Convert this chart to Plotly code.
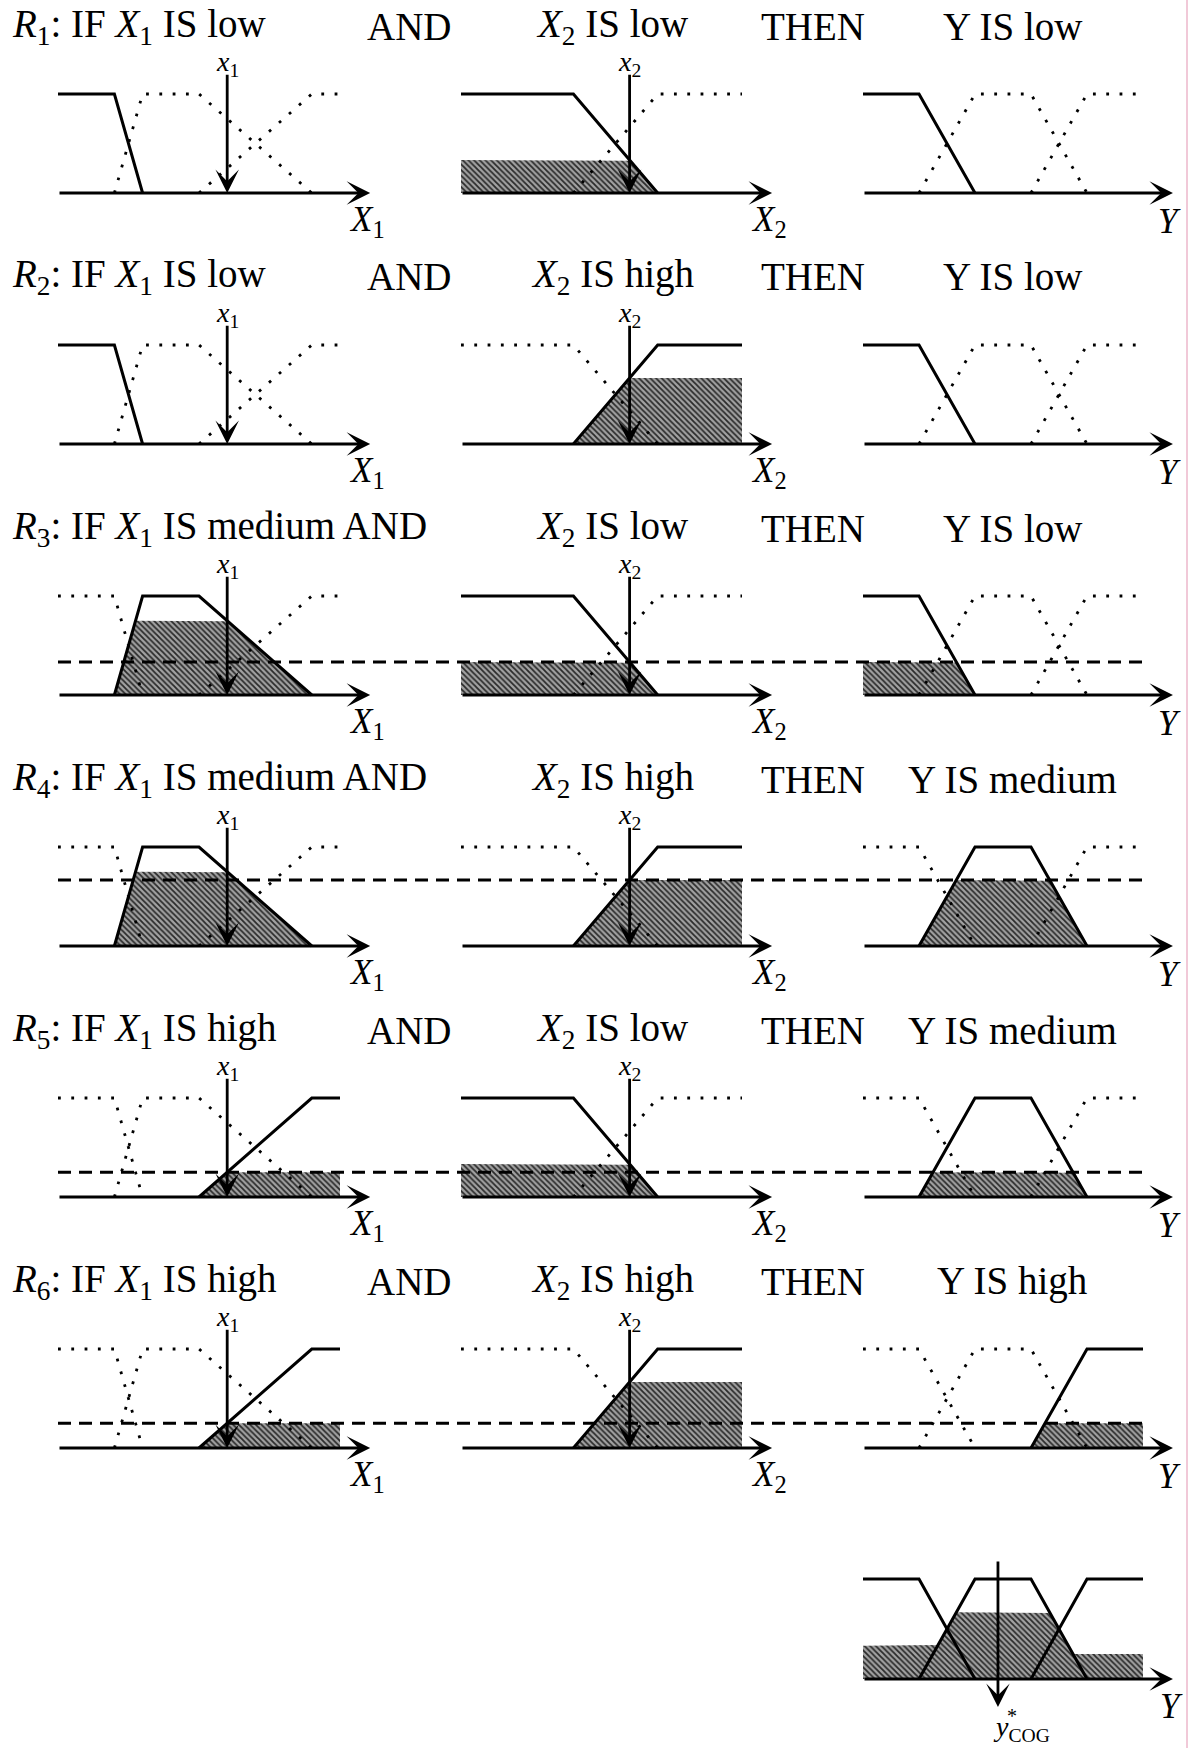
import numpy as np
import plotly.graph_objects as go

# ---------------- data ----------------
x1_low = [0, 0, 20, 30]
x1_medium = [20, 30, 50, 90]
x1_high = [50, 90, 100, 100]
x2_low = [0, 0, 40, 70]
x2_high = [40, 70, 100, 100]
y_low = [0, 0, 20, 40]
y_medium = [20, 40, 60, 80]
y_high = [60, 80, 100, 100]
x1_value = 60
x2_value = 60
rule_x1 = ["low", "low", "medium", "medium", "high", "high"]
rule_x2 = ["low", "high", "low", "high", "low", "high"]
rule_y = ["low", "low", "low", "medium", "medium", "high"]
axis_tip = 110.7

X1_SETS = {"low": x1_low, "medium": x1_medium, "high": x1_high}
X2_SETS = {"low": x2_low, "high": x2_high}
Y_SETS = {"low": y_low, "medium": y_medium, "high": y_high}

# ---------------- layout constants ----------------
W, H = 1192, 1748
FONT = "Liberation Serif"
TITLE_SIZE = 39
col_origin = [58, 461, 863]
col_scale = [2.82, 2.81, 2.80]
row_axis = [193 + 251 * r for r in range(6)]
final_axis = 1679
MU_PX = 99


def trap(x, p):
    a, b, c, d = p
    x = np.asarray(x, float)
    y = np.ones_like(x)
    if b > a:
        y = np.where(x < b, (x - a) / (b - a), y)
    if d > c:
        y = np.where(x > c, (d - x) / (d - c), y)
    y = np.where((x < a) | (x > d), 0.0, y)
    return np.clip(y, 0, 1)


def mf_line(p):
    a, b, c, d = p
    xs, ys = [], []
    if b > a:
        xs.append(a); ys.append(0)
    xs += [b, c]; ys += [1, 1]
    if d > c:
        xs.append(d); ys.append(0)
    return xs, ys


fig = go.Figure()
axes = {}
anns = []
shapes = []
counter = [0]


def add_panel(ox, sx, oy, sy):
    counter[0] += 1
    k = counter[0]
    s = "" if k == 1 else str(k)
    left, right = ox - 15, ox + 322
    top, bottom = oy - 140, oy + 50
    axes["xaxis" + s] = dict(domain=[left / W, right / W],
                             range=[(left - ox) / sx, (right - ox) / sx],
                             visible=False, fixedrange=True, anchor="y" + s)
    axes["yaxis" + s] = dict(domain=[1 - bottom / H, 1 - top / H],
                             range=[(oy - bottom) / sy, (oy - top) / sy],
                             visible=False, fixedrange=True, anchor="x" + s)
    return "x" + s, "y" + s


def add_fill(xa, ya, xs, ys):
    fig.add_trace(go.Scatter(
        x=xs, y=ys, xaxis=xa, yaxis=ya, mode="lines", fill="toself",
        line=dict(width=0, color="rgba(0,0,0,0)"),
        fillcolor="#8a8a8a",
        fillpattern=dict(shape="\\", fgcolor="#2a2a2a", bgcolor="#a2a2a2",
                         size=4, solidity=0.45, fillmode="replace"),
        hoverinfo="skip", showlegend=False))


def clipped(p, level):
    a, b, c, d = p
    xs = np.linspace(a, d, 801)
    ys = np.minimum(trap(xs, p), level)
    return (np.concatenate([[a], xs, [d]]), np.concatenate([[0], ys, [0]]))


def add_mfs(xa, ya, sets, active):
    for name, p in sets.items():
        if active is not None and name != active:
            xs, ys = mf_line(p)
            fig.add_trace(go.Scatter(
                x=xs, y=ys, xaxis=xa, yaxis=ya, mode="lines",
                line=dict(color="black", width=2.8, dash="2.8px,10.5px"),
                hoverinfo="skip", showlegend=False))
    for name, p in sets.items():
        if active is None or name == active:
            xs, ys = mf_line(p)
            fig.add_trace(go.Scatter(
                x=xs, y=ys, xaxis=xa, yaxis=ya, mode="lines",
                line=dict(color="black", width=3),
                hoverinfo="skip", showlegend=False))


def arrow(xa, ya, x0, y0, x1, y1, width=2.8):
    anns.append(dict(x=x1, y=y1, ax=x0, ay=y0, xref=xa, yref=ya,
                     axref=xa, ayref=ya, showarrow=True, arrowhead=3,
                     arrowsize=1.4, arrowwidth=width, arrowcolor="black",
                     text="", standoff=0, startstandoff=0))


def label(xa, ya, x, y, text, size, xanchor="center"):
    anns.append(dict(x=x, y=y, xref=xa, yref=ya, text=text, showarrow=False,
                     xanchor=xanchor, yanchor="middle", borderpad=0,
                     font=dict(family=FONT, size=size, color="black")))


def plabel(px, py, text, size, xanchor="center"):
    anns.append(dict(x=px / W, y=1 - py / H, xref="paper", yref="paper",
                     text=text, showarrow=False, xanchor=xanchor,
                     yanchor="middle", borderpad=0,
                     font=dict(family=FONT, size=size, color="black")))


axis_names = ["<i>X</i><sub>1</sub>", "<i>X</i><sub>2</sub>", "<i>Y</i>"]
firings = []
for r in range(6):
    oy = row_axis[r]
    mu1 = float(trap(x1_value, X1_SETS[rule_x1[r]]))
    mu2 = float(trap(x2_value, X2_SETS[rule_x2[r]]))
    fire = min(mu1, mu2)
    firings.append(fire)
    panels = []
    for c, (sets, act, val, mu) in enumerate([
            (X1_SETS, rule_x1[r], x1_value, mu1),
            (X2_SETS, rule_x2[r], x2_value, mu2),
            (Y_SETS, rule_y[r], None, fire)]):
        xa, ya = add_panel(col_origin[c], col_scale[c], oy, MU_PX)
        panels.append(ya)
        if mu > 0:
            fx, fy = clipped(sets[act], mu)
            add_fill(xa, ya, fx, fy)
        add_mfs(xa, ya, sets, act)
        arrow(xa, ya, 0, 0, axis_tip, 0)
        label(xa, ya, 109.5, -0.29, axis_names[c], 35)
        if val is not None:
            arrow(xa, ya, val, 1.21, val, 0)
            label(xa, ya, val, 1.31, "<i>x</i><sub>%d</sub>" % (c + 1), 28)
    if fire > 0:
        shapes.append(dict(type="line", xref="paper", yref=panels[0],
                           x0=58 / W, x1=1146 / W, y0=fire, y1=fire,
                           line=dict(color="black", width=2.8,
                                     dash="13px,8px"), layer="above"))
    # rule text
    ty = oy - 167
    first = "<i>R</i><sub>%d</sub>: IF <i>X</i><sub>1</sub> IS %s" % (r + 1, rule_x1[r])
    if rule_x1[r] == "medium":
        first += " AND"
    else:
        plabel(410, ty, "AND", TITLE_SIZE)
    plabel(11, ty, first, TITLE_SIZE, xanchor="left")
    plabel(612, ty, "<i>X</i><sub>2</sub> IS %s" % rule_x2[r], TITLE_SIZE)
    plabel(813, ty, "THEN", TITLE_SIZE)
    plabel(1012, ty, "Y IS %s" % rule_y[r], TITLE_SIZE)

# ---------------- aggregated output ----------------
yy = np.linspace(0, 100, 2001)
agg = np.zeros_like(yy)
for r in range(6):
    agg = np.maximum(agg, np.minimum(trap(yy, Y_SETS[rule_y[r]]), firings[r]))
y_cog = float(np.sum(yy * agg) / np.sum(agg))

xa, ya = add_panel(col_origin[2], col_scale[2], final_axis, 100)
add_fill(xa, ya, np.concatenate([[0], yy, [100]]), np.concatenate([[0], agg, [0]]))
add_mfs(xa, ya, Y_SETS, None)
arrow(xa, ya, 0, 0, axis_tip, 0)
label(xa, ya, 110.3, -0.27, "<i>Y</i>", 35)
arrow(xa, ya, y_cog, 1.19, y_cog, -0.28)
cog_px = col_origin[2] + y_cog * col_scale[2]
plabel(cog_px - 6, 1728, "<i>y</i><sub>COG</sub>", 28, xanchor="left")
plabel(cog_px + 8, 1716, "*", 20, xanchor="left")

# thin pink page border at the right
shapes.append(dict(type="line", xref="paper", yref="paper", x0=1187 / W,
                   x1=1187 / W, y0=0, y1=1,
                   line=dict(color="#f1c9d8", width=2)))

fig.update_layout(width=W, height=H, margin=dict(l=0, r=0, t=0, b=0),
                  paper_bgcolor="white", plot_bgcolor="rgba(0,0,0,0)",
                  showlegend=False, annotations=anns, shapes=shapes, **axes)
fig.write_html("out.html")
